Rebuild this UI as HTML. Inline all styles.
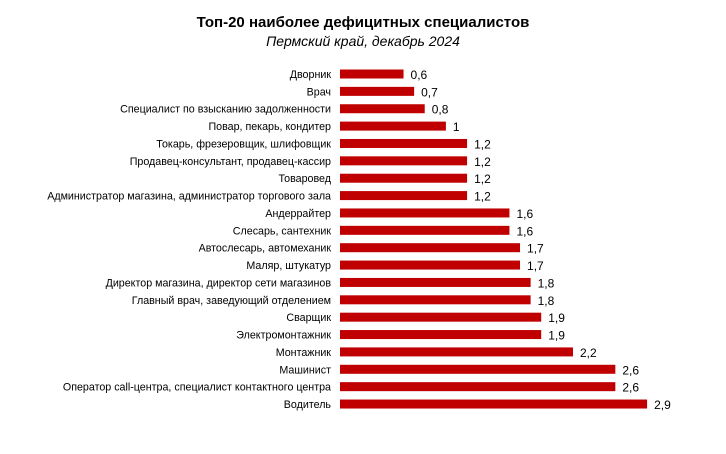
<!DOCTYPE html>
<html><head><meta charset="utf-8"><style>
body{margin:0;background:#fff;font-family:"Liberation Sans",sans-serif;}
</style></head><body>
<svg width="726" height="449" xmlns="http://www.w3.org/2000/svg">
<rect width="726" height="449" fill="#fff"/>
<text x="363" y="27" text-anchor="middle" font-size="15" font-weight="bold" font-family="Liberation Sans, sans-serif">Топ-20 наиболее дефицитных специалистов</text>
<text x="363" y="46" text-anchor="middle" font-size="14" font-style="italic" font-family="Liberation Sans, sans-serif">Пермский край, декабрь 2024</text>
<g id="bars"></g>
</svg>
<script>
const categories=["Дворник","Врач","Специалист по взысканию задолженности","Повар, пекарь, кондитер","Токарь, фрезеровщик, шлифовщик","Продавец-консультант, продавец-кассир","Товаровед","Администратор магазина, администратор торгового зала","Андеррайтер","Слесарь, сантехник","Автослесарь, автомеханик","Маляр, штукатур","Директор магазина, директор сети магазинов","Главный врач, заведующий отделением","Сварщик","Электромонтажник","Монтажник","Машинист","Оператор call-центра, специалист контактного центра","Водитель"];
const values=[0.6,0.7,0.8,1,1.2,1.2,1.2,1.2,1.6,1.6,1.7,1.7,1.8,1.8,1.9,1.9,2.2,2.6,2.6,2.9];
const valueLabels=["0,6","0,7","0,8","1","1,2","1,2","1,2","1,2","1,6","1,6","1,7","1,7","1,8","1,8","1,9","1,9","2,2","2,6","2,6","2,9"];
const NS="http://www.w3.org/2000/svg";
const x0=340, pxPerUnit=105.9, yTop=74, step=17.37, bh=9;
const xScale=v=>x0+v*pxPerUnit;
const yScale=i=>yTop+i*step;
const g=document.getElementById('bars');
categories.forEach((c,i)=>{
  const y=yScale(i);
  const r=document.createElementNS(NS,'rect');
  r.setAttribute('x',x0);r.setAttribute('y',y-bh/2);
  r.setAttribute('width',xScale(values[i])-x0);r.setAttribute('height',bh);
  r.setAttribute('fill','#c00000');
  
  
  g.appendChild(r);
  const t=document.createElementNS(NS,'text');
  t.setAttribute('x',331);t.setAttribute('y',y+4);t.setAttribute('text-anchor','end');
  t.setAttribute('font-size','10.7');t.setAttribute('font-family','Liberation Sans, sans-serif');
  t.textContent=c;
  
  
  g.appendChild(t);
  const v=document.createElementNS(NS,'text');
  v.setAttribute('x',xScale(values[i])+7);v.setAttribute('y',y+5);
  v.setAttribute('font-size','12');v.setAttribute('font-family','Liberation Sans, sans-serif');
  v.textContent=valueLabels[i];
  
  
  g.appendChild(v);
});
</script>
</body></html>
